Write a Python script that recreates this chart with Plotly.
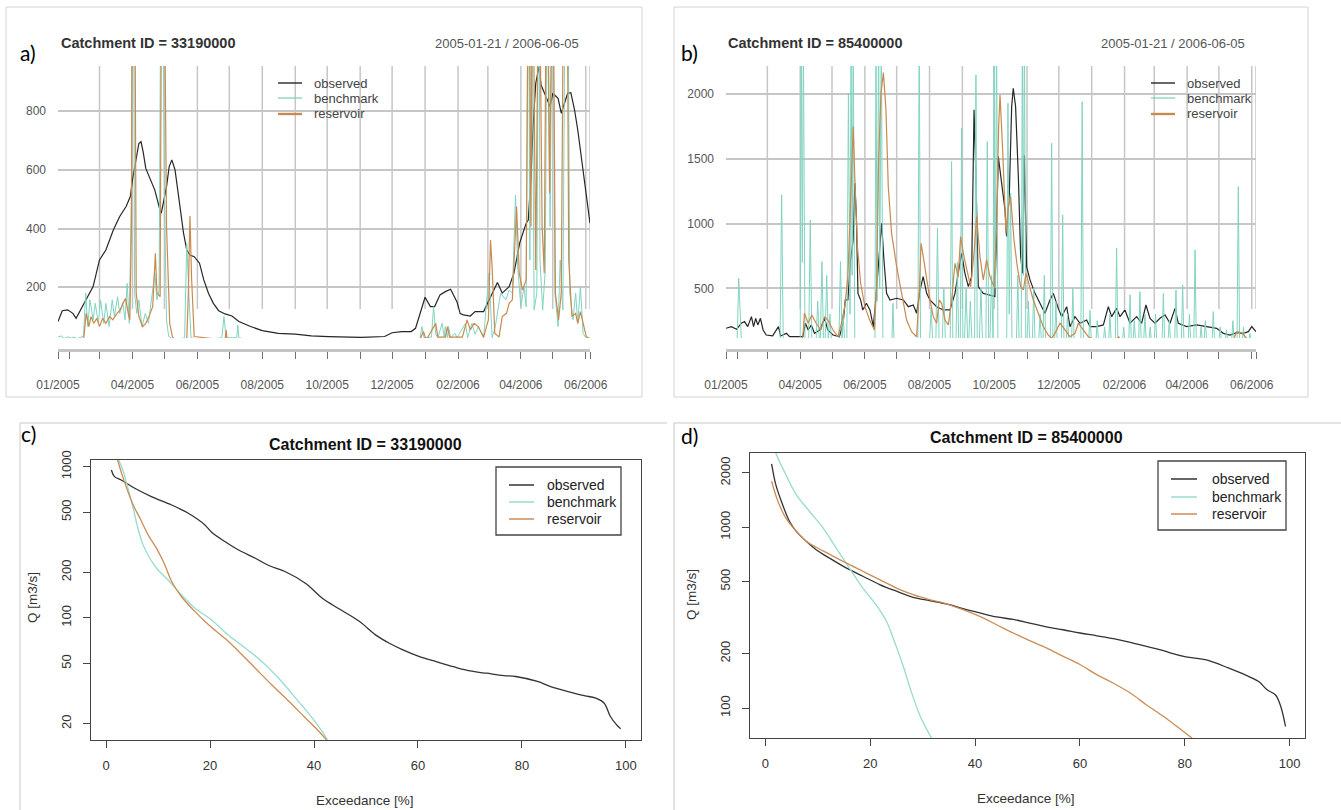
import pandas as pd
import plotly.graph_objects as go

W, H = 1341, 810
START = "2005-01-21"
END = "2006-06-05"

# ---------------- panel a (Catchment 33190000), days since START ----------------
obs_a_day = [0, 4, 9, 14, 17, 22, 26, 33, 39, 45,
             52, 58, 64, 68, 70, 72, 74, 76, 78, 80,
             82.5, 86, 91, 95, 97, 99.5, 102, 104.5, 107, 110,
             114, 118, 121, 124, 128, 133, 137, 141.5, 146, 151,
             157, 163.5, 170, 181, 192, 207, 223, 238, 254, 270,
             285, 307, 314, 323, 332, 336, 340, 345, 350, 354,
             359, 364, 369, 372, 375, 378, 381, 387.5, 392, 400,
             405, 413, 417.5, 424, 428.5, 431, 434, 440, 442, 444.5,
             446.5, 449, 452, 454, 457, 460, 462.5, 465, 470, 473,
             476, 479, 482, 485.5, 488.5, 493.5, 497, 500]
obs_a_q = [83, 120, 123, 111, 94, 128, 151, 202, 293, 327,
           395, 441, 475, 509, 566, 611, 656, 690, 696, 662,
           605, 577, 531, 475, 452, 497, 543, 611, 634, 600,
           497, 384, 327, 310, 304, 282, 225, 179, 145, 120,
           109, 102, 83, 66, 52, 43, 40, 34, 32, 31,
           29, 32, 45, 49, 49, 60, 111, 166, 134, 134,
           174, 185, 193, 170, 150, 110, 106, 102, 117, 117,
           157, 216, 180, 202, 248, 293, 352, 418, 429, 577,
           747, 895, 951, 889, 866, 838, 815, 861, 844, 793,
           827, 861, 863, 804, 736, 600, 486, 418]

bench_a_day = [0, 3, 6, 9, 12, 15, 18, 22, 24, 26,
               28, 30, 33, 35, 38, 40, 43, 45, 48, 51,
               53, 56, 58, 61, 63, 65, 67, 69, 70, 71,
               72, 74, 76, 79, 82, 85, 88, 91, 93, 95,
               97, 98, 100, 102, 104, 110, 119, 121, 123, 125,
               135, 154, 156, 158, 168, 169, 170, 180, 250, 340,
               342, 344, 351, 353, 355, 357, 361, 363, 364, 366,
               367, 369, 373, 375, 383, 385, 389, 392, 395, 400,
               405, 408, 411, 416, 421, 424, 427, 430, 432, 435,
               438, 440, 442, 443.5, 445, 447.5, 450, 452, 453, 455.5,
               458, 460, 462.5, 465, 467, 470, 472, 474.5, 477, 479,
               481, 484, 486.5, 488.5, 491, 493.5, 496, 500]
bench_a_q = [30, 34, 26, 31, 27, 30, 25, 29, 33, 180,
             66, 157, 89, 145, 77, 157, 77, 145, 66, 157,
             100, 168, 111, 145, 89, 213, 77, 520, 1500, 1500,
             180, 111, 157, 66, 111, 77, 157, 248, 157, 191,
             1500, 1500, 520, 89, 32, 20, 28, 350, 180, 28,
             20, 28, 100, 28, 28, 71, 28, 20, 20, 20,
             66, 28, 30, 134, 40, 28, 77, 30, 66, 28,
             66, 28, 43, 28, 77, 28, 77, 40, 66, 28,
             248, 28, 66, 180, 157, 191, 180, 514, 270, 134,
             202, 134, 1500, 293, 1500, 123, 180, 1500, 293, 123,
             259, 1500, 407, 1500, 180, 66, 293, 123, 1500, 1500,
             180, 89, 180, 77, 202, 43, 28, 25]

res_a_day = [0, 24, 26.5, 29, 31, 33.5, 36.5, 39, 42, 45,
             48.5, 51.5, 55.5, 58.5, 61, 63.5, 66, 67.5, 69, 70,
             72, 73.5, 76, 79.5, 82.5, 85.5, 89, 91.5, 93, 96,
             97.5, 99.5, 102, 105, 107.5, 110, 121, 122.5, 124, 125.5,
             128, 157, 158, 159, 340, 343.5, 346, 353, 355, 357,
             364, 366, 368, 380, 383, 384.5, 387.5, 391, 395, 400,
             404.5, 406.5, 408, 410.5, 414.5, 417.5, 421.5, 424, 427, 431,
             433.5, 436.5, 440, 442.3, 444.5, 446, 449, 452, 455, 457,
             459.3, 462, 465, 467.5, 470.5, 473, 475.5, 478.3, 480, 483,
             486.5, 488.5, 491, 494, 496.5, 500]
res_a_q = [20, 20, 111, 66, 100, 77, 94, 66, 94, 77,
           100, 89, 111, 123, 145, 162, 111, 89, 407, 1500,
           1500, 180, 100, 66, 77, 100, 134, 316, 180, 168,
           1500, 1500, 407, 77, 32, 20, 20, 180, 443, 236,
           32, 20, 54, 20, 20, 49, 20, 66, 77, 30,
           30, 66, 30, 30, 66, 89, 54, 77, 66, 30,
           89, 361, 270, 43, 30, 100, 111, 145, 157, 475,
           248, 191, 225, 1500, 407, 1500, 259, 1500, 407, 248,
           1500, 520, 1500, 180, 89, 180, 1500, 1500, 293, 100,
           111, 77, 117, 66, 32, 25]

# ---------------- panel b (Catchment 85400000) ----------------
obs_b_day = [0, 5, 10, 14.5, 17.5, 20.5, 24, 26, 28, 30,
             32.5, 35, 38, 44, 49.5, 51.5, 57, 60, 68, 72.5,
             75, 77.5, 80.5, 83.5, 88.5, 93, 96, 101, 107, 110.5,
             112.5, 115, 117.5, 120, 121.5, 123, 124.5, 127, 129, 132.5,
             135.8, 139, 142, 145.2, 146.8, 149, 151.5, 154.7, 161, 167.3,
             172, 176.7, 179.8, 183, 186, 189.3, 192.4, 198.7, 205, 211.3,
             216, 219, 222.3, 225.4, 228.6, 231.7, 234, 235.8, 238, 242.7,
             249, 253.7, 256.9, 260, 263.2, 264.7, 267.3, 269.5, 271, 273.2,
             275.8, 278, 279.8, 281.4, 283.6, 286.8, 291.5, 296.2, 300.9, 305.6,
             308.8, 313.5, 316.6, 321.4, 324.5, 329.2, 334, 340.2, 343.4, 349.7,
             356, 360.7, 363.8, 368.5, 371.7, 376.4, 381.1, 387.4, 392.1, 396.2,
             400, 404.7, 409.4, 414.1, 418.9, 423.6, 426.7, 434.6, 444, 453.4,
             462.9, 469.2, 475.5, 481.8, 488, 492.8, 496, 500]
obs_b_q = [191, 204, 183, 230, 243, 204, 281, 204, 268, 217,
           268, 178, 139, 132, 204, 132, 152, 126, 126, 126,
           230, 178, 217, 152, 178, 268, 178, 139, 126, 230,
           410, 410, 719, 874, 1312, 1054, 461, 410, 333, 384,
           333, 204, 487, 822, 1003, 719, 461, 410, 423, 410,
           358, 371, 307, 487, 590, 461, 410, 358, 333, 333,
           461, 616, 771, 616, 513, 590, 1879, 1364, 513, 461,
           449, 436, 1518, 1312, 1106, 900, 1235, 1905, 2046, 1905,
           1364, 745, 616, 1531, 668, 565, 461, 384, 307, 410,
           461, 345, 281, 358, 204, 281, 230, 255, 204, 204,
           217, 358, 281, 345, 281, 333, 230, 281, 230, 371,
           268, 230, 268, 294, 230, 345, 230, 204, 217, 204,
           191, 152, 139, 157, 152, 165, 204, 165]

res_b_day = [0, 70, 72.5, 74, 77.5, 81, 85, 89.5, 93, 96,
             101, 105.5, 109, 112, 115, 117.5, 120, 121.5, 124, 127,
             131, 135.5, 140, 142, 144, 146.2, 148.5, 150.9, 153.1, 156.2,
             161, 165.7, 170.4, 175.1, 179.8, 182.3, 184, 186.1, 189.3, 192.4,
             195.6, 198.7, 201.2, 203.4, 206.6, 209.7, 212.9, 216, 219.1, 221.3,
             224.5, 227.6, 230.8, 234, 236.4, 239.6, 242.7, 245.9, 249, 252.8,
             255.3, 257.2, 258.5, 261, 264.1, 266.3, 268.5, 271.7, 274.8, 278,
             280.5, 283, 286.1, 289.9, 294.6, 299.3, 304, 307.2, 310.3, 315.1,
             319.8, 324.5, 329.2, 332.4, 337.1, 341.8, 348, 360, 368, 370.5,
             373, 420, 478, 481.8, 486.5, 489.6, 492.8, 500]
res_b_q = [80, 80, 126, 307, 230, 294, 230, 178, 281, 255,
           178, 126, 230, 358, 590, 1235, 1750, 1364, 822, 539,
           358, 255, 178, 513, 1492, 2008, 2167, 1879, 1286, 925,
           668, 461, 255, 165, 126, 461, 848, 745, 565, 410,
           281, 230, 410, 384, 255, 217, 410, 693, 590, 900,
           745, 616, 513, 771, 1054, 745, 565, 719, 590, 513,
           977, 1750, 1995, 1570, 925, 1132, 1209, 874, 668, 513,
           487, 616, 513, 410, 307, 204, 139, 114, 152, 230,
           178, 126, 152, 230, 178, 126, 100, 80, 100, 126,
           90, 80, 90, 165, 157, 126, 100, 80]

# benchmark b as (day, flow) vertices
bench_b = [(0, 90), (10.5, 90), (12, 577), (13, 300), (14.5, 90), (51, 90), (52.5, 1222), (54, 90),
           (70, 90), (71, 2500), (72, 700), (73, 2500), (74.5, 90), (78, 90), (79.5, 1028), (81, 90),
           (85, 90), (86.5, 400), (88, 90), (89, 90), (90.5, 706), (92, 90), (93.5, 90), (95, 600),
           (96.5, 90), (98, 300), (99.5, 90), (106.5, 90), (108, 706), (109.5, 90), (110.5, 300), (112, 90),
           (114, 90), (115.5, 2007), (117, 300), (118, 2500), (119, 600), (120, 2500), (121.5, 90),
           (140.5, 90), (141.5, 2500), (142.5, 400), (144, 2500), (145, 500), (146.5, 2500), (148, 90),
           (156.5, 90), (157.5, 384), (158.5, 90), (181, 90), (182.3, 2500), (183.5, 90),
           (192, 90), (193.5, 350), (195, 90), (198, 90), (199.5, 964), (201, 90), (204, 90), (205.5, 500),
           (207, 90), (211.5, 90), (212.8, 1480), (214, 90), (217, 90), (218.3, 700), (219.5, 90),
           (221, 90), (222.3, 1737), (223.5, 90), (225, 90), (226.5, 500), (228, 90), (229, 90), (230.5, 400),
           (232, 90), (234.5, 90), (235.8, 2150), (237, 90), (239, 90), (240.5, 500), (242, 90),
           (245.2, 90), (246.5, 1634), (247.8, 90), (249, 90), (250.5, 600), (252, 90), (252.8, 2500),
           (254, 500), (255.3, 2500), (256.5, 90), (264.8, 90), (266, 1930), (267.2, 300), (268.5, 1235),
           (269.8, 90), (274, 90), (275.3, 600), (276.5, 90), (278.5, 90), (279.6, 2500), (280.5, 600),
           (281.5, 2500), (282.8, 90), (284, 90), (285.3, 400), (286.5, 90), (289, 90), (290.3, 500),
           (291.5, 90), (295, 90), (296.3, 300), (297.5, 90), (299, 90), (300.3, 600), (301.5, 90),
           (306, 90), (307.2, 1621), (308.4, 90), (310, 90), (311.2, 400), (312.4, 90), (316.4, 90),
           (317.6, 1067), (318.8, 90), (321, 90), (322.2, 300), (323.4, 90), (326, 90), (327.2, 500),
           (328.4, 90), (334.8, 90), (336, 1943), (337.2, 90), (342.2, 90), (343.4, 330), (344.6, 90),
           (349, 90), (350.2, 250), (351.4, 90), (356, 90), (357.2, 200), (358.4, 90), (361, 90),
           (362.2, 300), (363.4, 90), (367.3, 90), (368.5, 810), (369.7, 90), (374, 90), (375.2, 200),
           (376.4, 90), (380, 90), (381.2, 450), (382.4, 90), (384, 90), (385.2, 250), (386.4, 90),
           (389.3, 90), (390.5, 475), (391.7, 90), (394, 90), (395.2, 300), (396.4, 90), (399, 90),
           (400.2, 200), (401.4, 90), (404, 90), (405.2, 300), (406.4, 90), (411.4, 90), (412.6, 461),
           (413.8, 90), (417, 90), (418.2, 250), (419.4, 90), (423.3, 90), (424.5, 487), (425.7, 90),
           (429.6, 90), (430.8, 526), (432, 90), (436, 90), (437.2, 300), (438.4, 90), (441.3, 90),
           (442.5, 797), (443.7, 90), (447, 90), (448.2, 200), (449.4, 90), (451, 90), (452.2, 250),
           (453.4, 90), (458.5, 90), (459.7, 320), (460.9, 90), (465, 90), (466.2, 200), (467.4, 90),
           (471, 90), (472.2, 180), (473.4, 90), (477, 90), (478.2, 250), (479.4, 90), (482.1, 90),
           (483.3, 1286), (484.5, 90), (487, 90), (488.2, 200), (489.4, 90), (493, 90), (494.2, 150),
           (495.4, 90), (500, 90)]

# ---------------- flow duration curves (c, d) ----------------
fdc_c_obs_x = [1, 1.6, 2.9, 5.5, 8.7, 12.6, 15.8, 19, 20.3, 22.9,
               25.5, 28.7, 31.3, 34.5, 38.4, 41.6, 44.8, 48.7, 51.9, 54.5,
               57.1, 60.3, 63.5, 66.8, 70, 73.2, 76.5, 78.8, 83, 85.4,
               88.7, 92, 94.1, 95.8, 97, 98.2, 99]
fdc_c_obs_q = [950, 859, 816, 720, 634, 558, 492, 412, 368, 319,
               281, 248, 222, 202, 169, 135, 115, 95, 77, 68,
               61.5, 55.5, 51.4, 47.6, 44.6, 43.1, 41.6, 41, 38, 35.3,
               32.7, 30.6, 29.6, 27.4, 22.4, 19.7, 18.5]
fdc_c_bench_x = [1, 2.3, 3.2, 4.2, 5.2, 6.1, 7.1, 8.4, 9.7, 11.9,
                 14.5, 17.1, 20.3, 23.5, 26.8, 30, 33.2, 36.5, 39.7, 41.6, 42.6]
fdc_c_bench_q = [1600, 1135, 950, 720, 531, 392, 304, 248, 213, 178,
                 142, 116, 97, 77, 63, 51.4, 39.9, 29.4, 21.7, 17.7, 15.6]
fdc_c_res_x = [1, 2.1, 3.5, 5.2, 6.5, 8.1, 9.7, 11.3, 12.6, 14.5,
               17.1, 19.7, 22.9, 25.5, 28.7, 31.9, 35.2, 38.4, 41, 42.4]
fdc_c_res_q = [1600, 1135, 796, 558, 456, 353, 288, 224, 174, 138,
               110, 90, 73, 60, 46.5, 36, 28, 21.7, 17.7, 15.6]

fdc_d_obs_x = [1.2, 2, 3.3, 4.6, 5.9, 7.8, 9.7, 12.2, 15.4, 18.6,
               21.8, 25, 28.2, 31.3, 34.5, 37.7, 40.9, 44.1, 47.3, 50.4,
               53.6, 56.8, 60, 63.2, 66.4, 69.6, 72.7, 75.9, 77.2, 80.2,
               84.3, 88.4, 91.6, 94.1, 95.7, 97.3, 98.3, 99.2]
fdc_d_obs_q = [2244, 1722, 1333, 1080, 950, 837, 752, 676, 596, 536,
               482, 443, 410, 393, 377, 355, 336, 319, 309, 295,
               281, 271, 260, 251, 242, 231, 219, 208, 202, 192,
               184, 166, 152, 140, 126, 118, 102, 79]
fdc_d_bench_x = [1, 2, 3.9, 5.9, 8.4, 11, 13.5, 16, 18.6, 21.1,
                 23.1, 24.6, 26.2, 27.8, 29.4, 30.7, 31.7]
fdc_d_bench_q = [3200, 2578, 1958, 1517, 1227, 991, 769, 596, 461, 373,
                 302, 234, 174, 124, 92, 77, 68]
fdc_d_res_x = [1.2, 2.4, 3.9, 5.9, 7.8, 9.7, 12.2, 15.4, 18.6, 21.8,
               25, 28.2, 31.3, 34.5, 37.7, 40.9, 44.1, 47.3, 50.4, 53.6,
               56.8, 60, 63.2, 66.4, 69.6, 72.7, 75.9, 78.5, 81.4]
fdc_d_res_q = [1798, 1393, 1127, 950, 837, 775, 711, 635, 571, 513,
               461, 424, 398, 377, 350, 321, 289, 260, 236, 215,
               193, 174, 153, 137, 121, 104, 90, 79, 68]

# ---------------- axis ticks / labels ----------------
tick_dates = ["2005-01-21", "2005-02-01", "2005-03-01", "2005-04-01", "2005-05-01", "2005-06-01",
              "2005-07-01", "2005-08-01", "2005-09-01", "2005-10-01", "2005-11-01", "2005-12-01",
              "2006-01-01", "2006-02-01", "2006-03-01", "2006-04-01", "2006-05-01", "2006-06-01",
              "2006-06-05"]
tick_labels = ["01/2005", "", "", "04/2005", "", "06/2005", "", "08/2005", "", "10/2005", "",
               "12/2005", "", "02/2006", "", "04/2006", "", "06/2006", ""]
grid_dates = tick_dates[2:]
series_names = ["observed", "benchmark", "reservoir"]
catchments = ["33190000", "85400000"]
period_text = "2005-01-21 / 2006-06-05"

OBS, BEN, RES = "#262626", "#80d4c1", "#c98a4f"
OBS2, BEN2, RES2 = "#333333", "#96dccd", "#cd8c55"
FONT = "Liberation Sans, Arial, sans-serif"


def fx(p):
    return p / W


def fy(p):
    return 1 - p / H


def to_dates(days):
    return pd.Timestamp(START) + pd.to_timedelta(list(days), unit="D")


fig = go.Figure()

# panel a
fig.add_trace(go.Scatter(x=to_dates(obs_a_day), y=obs_a_q, mode="lines", line=dict(color=OBS, width=1.2), xaxis="x", yaxis="y"))
fig.add_trace(go.Scatter(x=to_dates(bench_a_day), y=bench_a_q, mode="lines", line=dict(color=BEN, width=1), xaxis="x", yaxis="y"))
fig.add_trace(go.Scatter(x=to_dates(res_a_day), y=res_a_q, mode="lines", line=dict(color=RES, width=1.2), xaxis="x", yaxis="y"))
# panel b
bb_day, bb_q = zip(*bench_b)
fig.add_trace(go.Scatter(x=to_dates(obs_b_day), y=obs_b_q, mode="lines", line=dict(color=OBS, width=1.2), xaxis="x2", yaxis="y2"))
fig.add_trace(go.Scatter(x=to_dates(bb_day), y=list(bb_q), mode="lines", line=dict(color=BEN, width=1), xaxis="x2", yaxis="y2"))
fig.add_trace(go.Scatter(x=to_dates(res_b_day), y=res_b_q, mode="lines", line=dict(color=RES, width=1.2), xaxis="x2", yaxis="y2"))
# panel c
fig.add_trace(go.Scatter(x=fdc_c_obs_x, y=fdc_c_obs_q, mode="lines", line=dict(color=OBS2, width=1.3, shape="spline"), xaxis="x3", yaxis="y3"))
fig.add_trace(go.Scatter(x=fdc_c_bench_x, y=fdc_c_bench_q, mode="lines", line=dict(color=BEN2, width=1.3, shape="spline"), xaxis="x3", yaxis="y3"))
fig.add_trace(go.Scatter(x=fdc_c_res_x, y=fdc_c_res_q, mode="lines", line=dict(color=RES2, width=1.3, shape="spline"), xaxis="x3", yaxis="y3"))
# panel d
fig.add_trace(go.Scatter(x=fdc_d_obs_x, y=fdc_d_obs_q, mode="lines", line=dict(color=OBS2, width=1.3, shape="spline"), xaxis="x4", yaxis="y4"))
fig.add_trace(go.Scatter(x=fdc_d_bench_x, y=fdc_d_bench_q, mode="lines", line=dict(color=BEN2, width=1.3, shape="spline"), xaxis="x4", yaxis="y4"))
fig.add_trace(go.Scatter(x=fdc_d_res_x, y=fdc_d_res_q, mode="lines", line=dict(color=RES2, width=1.3, shape="spline"), xaxis="x4", yaxis="y4"))

top_x = dict(type="date", range=[START, END], tickmode="array", tickvals=tick_dates, ticktext=tick_labels,
             ticks="outside", ticklen=7, tickwidth=1, tickcolor="#707070", showline=True,
             linecolor="#c4c4c4", linewidth=2.5, showgrid=False, zeroline=False, automargin=False,
             tickfont=dict(size=12, color="#555555"), ticklabelstandoff=16, anchor="free",
             position=fy(350), fixedrange=True)
top_y = dict(tickmode="array", ticks="", showline=False, zeroline=False, showgrid=True, automargin=False,
             gridcolor="#c6c6c6", gridwidth=1.5, tickfont=dict(size=12, color="#555555"),
             ticklabelstandoff=11, fixedrange=True)
bot_x = dict(range=[-2.92, 102.92], tickmode="array", tickvals=[0, 20, 40, 60, 80, 100],
             ticks="outside", ticklen=7, tickwidth=1.2, tickcolor="#444444", showline=True, mirror=True,
             linecolor="#444444", linewidth=1.3, showgrid=False, zeroline=False, automargin=False,
             tickfont=dict(size=13, color="#333333"), ticklabelstandoff=6, fixedrange=True)
bot_y = dict(type="log", tickmode="array", ticks="outside", ticklen=7, tickwidth=1.2, tickcolor="#444444",
             showline=True, mirror=True, linecolor="#444444", linewidth=1.3, showgrid=False,
             zeroline=False, tickangle=-90, tickfont=dict(size=13, color="#333333"), automargin=False,
             ticklabelstandoff=7, fixedrange=True)

c_yt = [20, 50, 100, 200, 500, 1000]
d_yt = [100, 200, 500, 1000, 2000]

fig.update_layout(
    template="none",
    width=W, height=H, margin=dict(l=0, r=0, t=0, b=0, pad=0, autoexpand=False), showlegend=False,
    paper_bgcolor="white", plot_bgcolor="white", font=dict(family=FONT, color="#333333"),
    xaxis=dict(**top_x, domain=[fx(58), fx(590)]),
    yaxis=dict(**top_y, domain=[fy(338), fy(66)], range=[27, 954], tickvals=[200, 400, 600, 800], anchor="x"),
    xaxis2=dict(**top_x, domain=[fx(726), fx(1256)]),
    yaxis2=dict(**top_y, domain=[fy(338), fy(66)], range=[116, 2218], tickvals=[500, 1000, 1500, 2000], anchor="x2"),
    xaxis3=dict(**bot_x, domain=[fx(91), fx(641)], anchor="y3"),
    yaxis3=dict(**bot_y, domain=[fy(740), fy(460)], range=[1.193, 3.044], tickvals=c_yt,
                ticktext=[str(v) for v in c_yt], anchor="x3"),
    xaxis4=dict(**bot_x, domain=[fx(750), fx(1305)], anchor="y4"),
    yaxis4=dict(**bot_y, domain=[fy(738), fy(453)], range=[1.834, 3.411], tickvals=d_yt,
                ticktext=[str(v) for v in d_yt], anchor="x4"),
)

shapes = []
annotations = []


def pline(x0, y0, x1, y1, color, width):
    shapes.append(dict(type="line", xref="paper", yref="paper", x0=fx(x0), y0=fy(y0), x1=fx(x1), y1=fy(y1),
                       line=dict(color=color, width=width)))


def text(t, x, y, size, color="#333333", xanchor="center", angle=0, family=FONT):
    annotations.append(dict(text=t, x=fx(x), y=fy(y), xref="paper", yref="paper", xanchor=xanchor,
                            yanchor="middle", showarrow=False, textangle=angle,
                            font=dict(size=size, color=color, family=family)))


# outer frames
shapes.append(dict(type="rect", xref="paper", yref="paper", x0=fx(6), x1=fx(642), y0=fy(397), y1=fy(7),
                   line=dict(color="#d4d4d4", width=1), layer="below"))
shapes.append(dict(type="rect", xref="paper", yref="paper", x0=fx(674), x1=fx(1308), y0=fy(397), y1=fy(7),
                   line=dict(color="#d4d4d4", width=1), layer="below"))
pline(20, 423, 667, 423, "#c8c8c8", 1)
pline(20, 423, 20, 810, "#c8c8c8", 1)
pline(674, 423, 1341, 423, "#c8c8c8", 1)
pline(674, 423, 674, 810, "#c8c8c8", 1)

# vertical grid lines of the xts panels
for xa in ["x", "x2"]:
    ya = "y" if xa == "x" else "y2"
    for d in grid_dates:
        shapes.append(dict(type="line", xref=xa, yref=ya + " domain", x0=d, x1=d, y0=0.1066, y1=1,
                           line=dict(color="#c6c6c6", width=1.5), layer="below"))

# panel headers
for i, (x0, xr) in enumerate([(59, 581), (726, 1247)]):
    text("<b>Catchment ID = " + catchments[i] + "</b>", x0, 43, 14.5, "#333333", "left")
    text(period_text, xr, 43, 13, "#555555", "right")
LBL = "Lato, Liberation Sans, sans-serif"
text("a)", 28, 52, 21, "#000000", family=LBL)
text("b)", 689, 52, 21, "#000000", family=LBL)
text("c)", 28, 434, 21, "#000000", family=LBL)
text("d)", 689, 435, 21, "#000000", family=LBL)

# top legends (no box)
cols_top = [OBS, BEN, RES]
widths_top = [1.4, 1.3, 2.4]
for lx0, lx1, tx in [(278, 302, 312), (1151, 1175, 1185)]:
    for k, yy in enumerate([83, 98, 114]):
        pline(lx0, yy, lx1, yy, cols_top[k], widths_top[k])
        text(series_names[k], tx, yy, 13, "#444444", "left")

# bottom panels titles, axis titles, legends
text("<b>Catchment ID = " + catchments[0] + "</b>", 365, 444, 16, "#111111")
text("<b>Catchment ID = " + catchments[1] + "</b>", 1026, 437, 16, "#111111")
text("Exceedance [%]", 365, 800, 13.5, "#333333")
text("Exceedance [%]", 1026, 798, 13.5, "#333333")
text("Q [m3/s]", 32, 597, 13.5, "#333333", angle=-90)
text("Q [m3/s]", 691, 595, 13.5, "#333333", angle=-90)

cols_bot = [OBS2, BEN2, RES2]
for bx0, bx1, by0, by1, lx0, lx1, tx, rows in [(496, 621, 467, 535, 509, 534, 545, [485, 502, 519]),
                                               (1158, 1286, 461, 530, 1171, 1197, 1210, [479, 497, 514])]:
    shapes.append(dict(type="rect", xref="paper", yref="paper", x0=fx(bx0), x1=fx(bx1), y0=fy(by1), y1=fy(by0),
                       line=dict(color="#444444", width=1.3), fillcolor="white"))
    for k, yy in enumerate(rows):
        pline(lx0, yy, lx1, yy, cols_bot[k], 1.5)
        text(series_names[k], tx, yy, 14, "#222222", "left")

fig.update_layout(shapes=shapes, annotations=annotations)

fig.write_html("out.html", config={"displayModeBar": False},
               post_script="document.body.style.margin='0px';")
